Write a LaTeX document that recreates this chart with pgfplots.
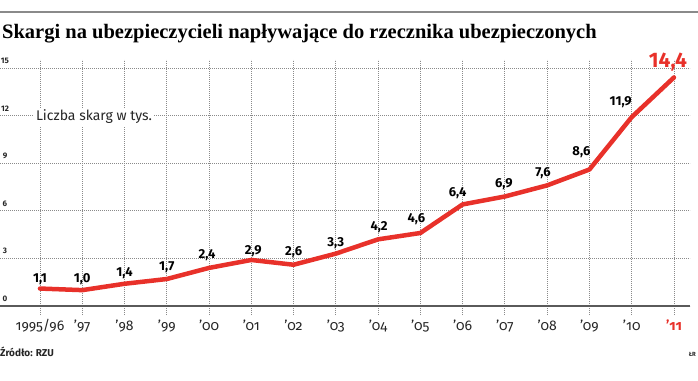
\documentclass[border=0pt]{standalone}
\usepackage{fontspec}
\usepackage{pgfplots}
\pgfplotsset{compat=1.18}
\setmainfont{Fira Sans}
\newfontfamily\titlefont{Liberation Serif}
\newfontfamily\oldnum[Numbers=OldStyle]{Fira Sans}
\definecolor{lred}{HTML}{E8312A}
\definecolor{gridgray}{HTML}{8A8A8A}
\definecolor{axgray}{HTML}{5A5A5A}
\pgfplotstableread{
x y dx dy
0 1.1 0 9.5
1 1.0 0 11
2 1.4 0 11
3 1.7 0 12
4 2.4 -2 13
5 2.9 2 9
6 2.6 0 12.7
7 3.3 0 10
8 4.2 1 12
9 4.6 -4 14
10 6.4 -5 11
11 6.9 -1 12.5
12 7.6 -4 12.4
13 8.6 -8 17.5
14 11.9 -11 15
}\labtab
\begin{document}
\begin{tikzpicture}[x=1pt,y=1pt]
\useasboundingbox (0,0) rectangle (698,380);
\draw[gridgray, line width=1.2pt] (0,368) -- (698,368);
\node[anchor=base west, inner sep=0] at (2,341) {\titlefont\bfseries\fontsize{20.5}{20.5}\selectfont Skargi na ubezpieczycieli napływające do rzecznika ubezpieczonych};
\begin{axis}[at={(0pt,74pt)}, anchor=south west, scale only axis,
  width=690pt, height=246pt,
  xmin=-0.946, xmax=15.38, ymin=0, ymax=15.5,
  axis line style={draw=none},
  xtick={0,...,15}, ytick={0,3,...,15},
  xtick pos=bottom, ytick pos=left,
  tick align=outside, major tick length=9pt,
  xtick style={gridgray, dash pattern=on 0.8pt off 1.2pt, line width=0.8pt},
  ytick style={draw=none},
  grid=major,
  grid style={gridgray, dash pattern=on 0.8pt off 1.2pt, line width=0.8pt},
  /pgf/number format/assume math mode=true,
  yticklabel style={anchor=south, xshift=14pt, yshift=1pt, font=\fontsize{8}{8}\selectfont\bfseries, text=black!85},
  xticklabels={1995/96,’97,’98,’99,’00,’01,’02,’03,’04,’05,’06,’07,’08,’09,’10,{\textcolor{lred}{\bfseries ’11}}},
  xticklabel style={font=\oldnum\fontsize{14}{14}\selectfont, text=black!85, yshift=-1pt},
  clip=false,
]
\draw[axgray, line width=1.6pt] (axis cs:-0.946,0) -- (axis cs:15.38,0);
\addplot[lred, line width=4.5pt, line join=round, line cap=round] coordinates {
(0,1.1) (1,1.0) (2,1.4) (3,1.7) (4,2.4) (5,2.9) (6,2.6) (7,3.3) (8,4.2) (9,4.6) (10,6.4) (11,6.9) (12,7.6) (13,8.6) (14,11.9) (15,14.4)};
\addplot[draw=none, point meta=y,
  visualization depends on={\thisrow{dx} \as \dx},
  visualization depends on={\thisrow{dy} \as \dy},
  nodes near coords={\pgfmathprintnumber[use comma,fixed,fixed zerofill,precision=1]{\pgfplotspointmeta}},
  nodes near coords style={anchor=center, xshift=\dx pt, yshift=\dy pt, font=\fontsize{13}{13}\selectfont\bfseries, text=black}]
  table[x=x, y=y] {\labtab};
\addplot[draw=none, point meta=y,
  nodes near coords={\pgfmathprintnumber[use comma,fixed,fixed zerofill,precision=1]{\pgfplotspointmeta}},
  nodes near coords style={anchor=center, xshift=-6pt, yshift=15pt, font=\fontsize{21}{21}\selectfont\bfseries, text=lred}]
  coordinates {(15,14.4)};
\end{axis}
\node[fill=white, inner sep=2pt, text=black!85, font=\fontsize{14}{14}\selectfont] at (94,263) {Liczba skarg w tys.};
\node[anchor=west, inner sep=0, font=\fontsize{10}{10}\selectfont\bfseries, text=black!85] at (0,28) {Źródło: RZU};
\node[anchor=east, inner sep=0, font=\fontsize{6}{6}\selectfont\bfseries, text=black!85] at (696,26) {ŁR};
\end{tikzpicture}
\end{document}
